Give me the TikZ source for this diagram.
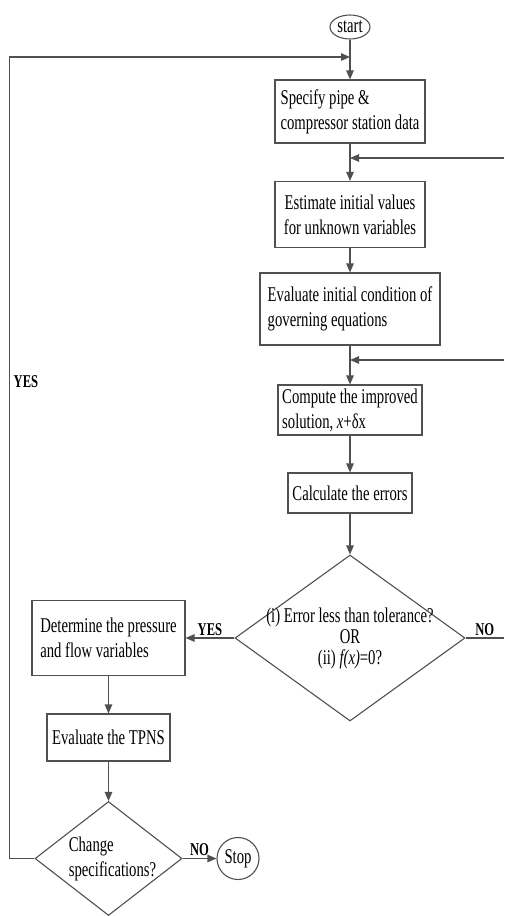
\documentclass[tikz,border=0pt]{standalone}
\usepackage{fontspec}
\setmainfont{Liberation Serif}[FakeStretch=0.7]
\usepackage{tikz}
\usetikzlibrary{arrows.meta}
\usetikzlibrary{shapes.geometric}
\definecolor{lineGray}{RGB}{80,80,80}

\begin{document}
\begin{tikzpicture}[x=1pt,y=1pt,->,>={Triangle[length=9pt,width=7.5pt]},line width=1.2pt,font=\fontsize{21}{25}\selectfont,
	box node/.style={rectangle,draw=lineGray,line width=1.1pt,align=left,inner sep=0pt},
	dec node/.style={diamond,draw=lineGray,line width=1.1pt,inner sep=0pt},
	end node/.style={draw=lineGray,line width=1.1pt,inner sep=0pt},
	tag/.style={font=\fontsize{18}{18}\selectfont\bfseries,inner sep=2pt}]

				\useasboundingbox (0,0) rectangle (504,-916);

				\node[end node,ellipse,minimum width=40pt,minimum height=24pt] (Start) at (350,-27) {start};
				\node[box node,minimum width=150pt,minimum height=63pt] (Spec) [below of=Start,node distance=84.5pt] {Specify pipe \&\\compressor station data};
				\node[box node,minimum width=150pt,minimum height=66pt,align=center] (Est) [below of = Spec,node distance=103pt] {Estimate initial values\\for unknown variables};
				\node[box node,minimum width=180pt,minimum height=72pt] (Gov) [below of=Est,node distance=94.5pt] {Evaluate initial condition of\\governing equations};
				\node[box node,minimum width=144pt,minimum height=50pt] (Comp) [below of = Gov,node distance=101pt] {Compute the improved\\solution, \textit{x}+δx};
				\node[box node,minimum width=124pt,minimum height=40pt] (Err) [below of=Comp,node distance=83pt] {Calculate the errors};
				\node[dec node,minimum width=230pt,minimum height=166pt,
					label={[align=center,font=\fontsize{21}{21}\selectfont]center:{(i) Error less than tolerance?\\OR\\(ii) \textit{f(x)}=0?}}] (Tol) [below of = Err,node distance=145pt] {};
				\node[box node,minimum width=153pt,minimum height=75pt] (Det) [left of=Tol,node distance=241.5pt] {Determine the pressure\\and flow variables};
				\node[box node,minimum width=123pt,minimum height=47pt] (Tpns) [below of = Det,node distance=99.5pt] {Evaluate the TPNS};
				\node[dec node,minimum width=147pt,minimum height=114pt,
					label={[align=left,xshift=4pt]center:{Change\\specifications?}}] (Chg) [below of=Tpns,node distance=121pt] {};
				\node[end node,circle,minimum size=42pt] (Stop) [right of = Chg,node distance=129.5pt] {Stop};

				% loop ends and joins on the main line
				\coordinate (LoopIn) at (350,-57);
				\coordinate (FbOne) at (504,-158);
				\coordinate (FbOneIn) at (350,-158);
				\coordinate (FbTwo) at (504,-360);
				\coordinate (FbTwoIn) at (350,-360);
				\coordinate (NoOut) at (504,-638);

				\path[every edge/.style={draw=lineGray}]
				(Start) edge (Spec)
				(Spec) edge (Est)
				(Est) edge (Gov)
				(Gov) edge (Comp)
				(Comp) edge (Err)
				(Err) edge (Tol)
				(Det) edge (Tpns)
				(Tpns) edge (Chg)
				(FbOne) edge (FbOneIn)
				(FbTwo) edge (FbTwoIn);

				\draw[draw=lineGray] (Tol.west) -- node [tag,above] {YES} (Det.east);
				\draw[draw=lineGray] (Chg.east) -- node [tag,above] {NO} (Stop.west);
				\draw[draw=lineGray,-] (Tol.east) -- node [tag,above] {NO} (NoOut);
				\draw[draw=lineGray] (Chg.west) -- ++(-25,0) |- (LoopIn);
				\node[tag] (YesLoop) at (26,-382) {YES};

\end{tikzpicture}
\end{document}
